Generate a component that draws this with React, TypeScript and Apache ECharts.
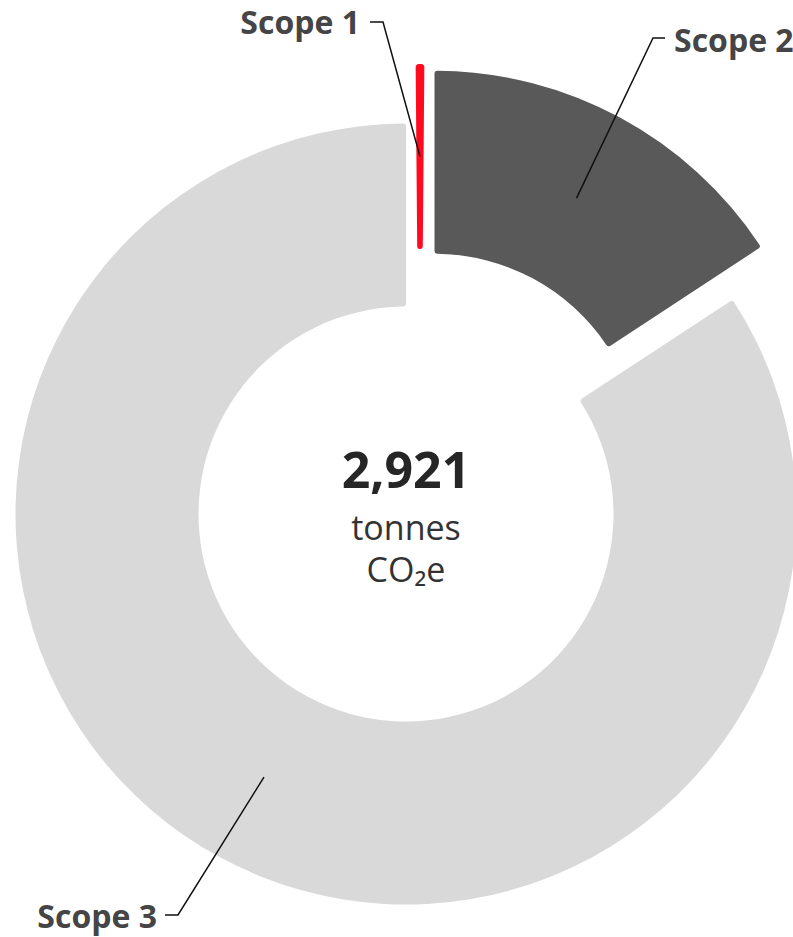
import React, { useEffect, useRef } from 'react';
import * as echarts from 'echarts';

// ---- data ----
const categories = ['Scope 1', 'Scope 2', 'Scope 3'];
const emissions = [8, 459, 2454]; // tonnes CO2e
const sliceColors = ['#ff0a1e', '#595959', '#d9d9d9'];
const totalLabel = '2,921';
const unitLines = ['tonnes', 'CO₂e'];

// ---- layout ----
const W = 793;
const H = 937;
const CENTER: [number, number] = [406, 514];
const R_IN = 207.5;
const R_OUT = 390.5;
const EXPLODE = 60;
const SCOPE1_CENTER: [number, number] = [420, 455.5];
const FONT = "'Open Sans', 'Noto Sans', sans-serif";

export default function App() {
  const ref = useRef<HTMLDivElement>(null);

  useEffect(() => {
    const chart = echarts.init(ref.current!, null, { renderer: 'svg', width: W, height: H });
    const total = emissions.reduce((a, b) => a + b, 0);
    const ringTotal = emissions[1] + emissions[2];
    const scope2Angle = (emissions[1] / ringTotal) * 360;
    const mid2 = scope2Angle / 2;
    const mid3 = (scope2Angle + 360) / 2;
    const rad = (d: number) => (d * Math.PI) / 180;
    const c2: [number, number] = [
      CENTER[0] + EXPLODE * Math.sin(rad(mid2)),
      CENTER[1] - EXPLODE * Math.cos(rad(mid2)),
    ];
    const rMid = (R_IN + R_OUT) / 2;
    const anchor = (c: [number, number], a: number) => [
      c[0] + rMid * Math.sin(rad(a)),
      c[1] - rMid * Math.cos(rad(a)),
    ];
    const a1 = anchor(SCOPE1_CENTER, 0);
    const a2 = anchor(c2, mid2);
    const a3 = anchor(CENTER, mid3);
    const scope1Angle = (emissions[0] / total) * 360;

    const labelStyle = (text: string, x: number, y: number, align: string) => ({
      type: 'text',
      x,
      y,
      z: 100,
      silent: true,
      style: {
        text,
        fill: '#454545',
        fontSize: 32,
        fontWeight: 'bold',
        fontFamily: FONT,
        align,
        textAlign: align,
        verticalAlign: 'middle',
        textVerticalAlign: 'middle',
      },
    });
    const leader = (pts: number[][]) => ({
      type: 'polyline',
      z: 100,
      silent: true,
      shape: { points: pts },
      style: { stroke: '#111', lineWidth: 1.5, fill: null },
    });
    const centerText = (text: string, y: number, size: number, weight: string, color: string) => ({
      type: 'text',
      x: CENTER[0],
      y,
      z: 100,
      silent: true,
      style: {
        text,
        fill: color,
        fontSize: size,
        fontWeight: weight,
        fontFamily: FONT,
        align: 'center',
        textAlign: 'center',
        verticalAlign: 'middle',
        textVerticalAlign: 'middle',
      },
    });

    chart.setOption({
      animation: false,
      backgroundColor: '#ffffff',
      series: [
        {
          type: 'pie',
          name: 'Scope 2 & 3',
          z: 2,
          center: CENTER,
          radius: [R_IN, R_OUT],
          startAngle: 90,
          clockwise: true,
          silent: true,
          selectedMode: 'multiple',
          selectedOffset: EXPLODE,
          label: { show: false },
          labelLine: { show: false },
          itemStyle: { borderRadius: 3, borderWidth: 0 },
          select: { itemStyle: { borderWidth: 0 } },
          data: [
            {
              name: categories[1],
              value: emissions[1],
              selected: true,
              itemStyle: { color: sliceColors[1] },
              select: { itemStyle: { color: sliceColors[1], borderWidth: 0 } },
            },
            { name: categories[2], value: emissions[2], itemStyle: { color: sliceColors[2] } },
          ],
        },
        {
          type: 'pie',
          name: 'Scope 1',
          z: 2,
          center: SCOPE1_CENTER,
          radius: [R_IN, R_OUT],
          startAngle: 90 + scope1Angle / 2,
          clockwise: true,
          silent: true,
          label: { show: false },
          labelLine: { show: false },
          data: [
            {
              name: categories[0],
              value: emissions[0],
              itemStyle: { color: sliceColors[0], borderColor: sliceColors[0], borderWidth: 2, borderRadius: 2 },
            },
            { name: '', value: total - emissions[0], itemStyle: { color: 'transparent' } },
          ],
        },
      ],
      graphic: {
        elements: [
          leader([[370, 22], [383, 22], a1]),
          leader([[665, 38], [653, 38], a2]),
          leader([[165, 915], [178, 915], a3]),
          labelStyle(categories[0], 360, 21, 'right'),
          labelStyle(categories[1], 674, 39.5, 'left'),
          labelStyle(categories[2], 157, 915.5, 'right'),
          centerText(totalLabel, 469, 50, 'bold', '#262626'),
          centerText(unitLines[0], 527, 34, 'normal', '#333333'),
          centerText(unitLines[1], 569, 34, 'normal', '#333333'),
        ],
      },
    });
    return () => chart.dispose();
  }, []);

  return (
    <div
      ref={ref}
      style={{ position: 'fixed', left: 0, top: 0, width: W, height: H, background: '#fff' }}
    />
  );
}
